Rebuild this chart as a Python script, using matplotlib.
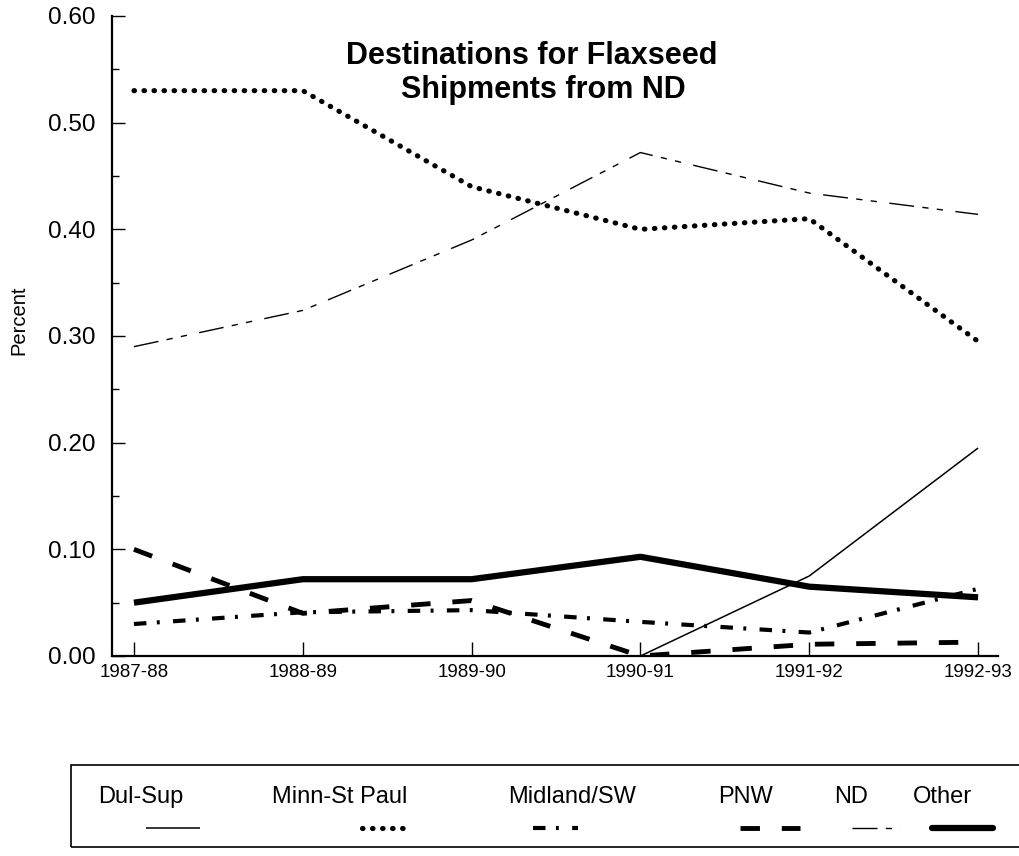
import matplotlib
matplotlib.use("Agg")
import matplotlib.pyplot as plt
from matplotlib.lines import Line2D
from matplotlib.patches import Rectangle
from matplotlib.ticker import MultipleLocator, FormatStrFormatter

plt.rcParams['font.family'] = ['Liberation Sans', 'DejaVu Sans']

# share of ND flaxseed shipments by destination
years = ['1987-88', '1988-89', '1989-90', '1990-91', '1991-92', '1992-93']
dul_sup = [0.0, 0.0, 0.0, 0.0, 0.075, 0.195]
minn_st_paul = [0.53, 0.53, 0.44, 0.40, 0.41, 0.295]
midland_sw = [0.03, 0.041, 0.043, 0.032, 0.022, 0.063]
pnw = [0.10, 0.04, 0.052, 0.0, 0.011, 0.013]
nd = [0.29, 0.324, 0.39, 0.472, 0.434, 0.414]
other = [0.05, 0.072, 0.072, 0.093, 0.065, 0.055]

names = ['Dul-Sup', 'Minn-St Paul', 'Midland/SW', 'PNW', 'ND', 'Other']
series = [dul_sup, minn_st_paul, midland_sw, pnw, nd, other]

styles = {
    'Dul-Sup': dict(lw=1.1, ls='-', cap='butt'),
    'Minn-St Paul': dict(lw=3.7, ls=(0, (0.1, 1.85)), cap='round'),
    'Midland/SW': dict(lw=3.0, ls=(0, (3, 2.5, 0.7, 3.2)), cap='butt'),
    'PNW': dict(lw=3.5, ls=(0, (4, 4.5)), cap='butt'),
    'ND': dict(lw=1.0, ls=(0, (18, 6, 4.5, 6, 4.5, 9)), cap='butt'),
    'Other': dict(lw=4.5, ls='-', cap='round'),
}

W, H = 1020, 856
fig = plt.figure(figsize=(W / 100, H / 100), dpi=100)
ax = fig.add_axes([112 / W, 200 / H, 886 / W, 640 / H])

x = list(range(len(years)))
for name, vals in zip(names, series):
    st = styles[name]
    ax.plot(x, vals, color='black', linewidth=st['lw'], linestyle=st['ls'],
            dash_capstyle=st['cap'], solid_capstyle='butt', zorder=2)

ax.set_xlim(-0.13, 5.118)
ax.set_ylim(0, 0.6)
ax.set_xticks(x)
ax.set_xticklabels(years, fontsize=13.5)
ax.yaxis.set_major_locator(MultipleLocator(0.1))
ax.yaxis.set_minor_locator(MultipleLocator(0.05))
ax.yaxis.set_major_formatter(FormatStrFormatter('%.2f'))
ax.tick_params(axis='y', which='major', direction='in', length=9, width=1,
               pad=12, labelsize=17.5)
ax.tick_params(axis='y', which='minor', direction='in', length=5, width=1)
ax.tick_params(axis='x', direction='in', length=10, width=1, pad=6)
for side in ('top', 'right'):
    ax.spines[side].set_visible(False)
for side in ('left', 'bottom'):
    ax.spines[side].set_linewidth(1.6)

ax.set_ylabel('Percent', fontsize=14.5)
ax.yaxis.set_label_coords(28 / W, 1 - 320 / H, transform=fig.transFigure)

fig.text(532 / W, 1 - 56 / H, 'Destinations for Flaxseed', ha='center',
         va='center', fontsize=22, fontweight='bold')
fig.text(543 / W, 1 - 90 / H, 'Shipments from ND', ha='center',
         va='center', fontsize=22, fontweight='bold')

# legend box along the bottom, running off the right edge
fig.add_artist(Rectangle((71 / W, 1 - 847 / H), 1.0, (847 - 765) / H,
                         transform=fig.transFigure, fill=False,
                         edgecolor='black', linewidth=1.2, clip_on=False))
label_x = [141, 340, 572, 746, 851, 942]
key_span = [(146, 200), (362, 404), (533, 578), (740, 800), (852, 900),
            (932, 993)]
for name, lx, (k0, k1) in zip(names, label_x, key_span):
    fig.text(lx / W, 1 - 797 / H, name, ha='center', va='center',
             fontsize=17)
    st = styles[name]
    fig.add_artist(Line2D([k0 / W, k1 / W], [1 - 828 / H, 1 - 828 / H],
                          transform=fig.transFigure, color='black',
                          linewidth=st['lw'], linestyle=st['ls'],
                          dash_capstyle=st['cap'],
                          solid_capstyle='round' if name == 'Other' else 'butt'))

fig.savefig('out.png', dpi=100)
